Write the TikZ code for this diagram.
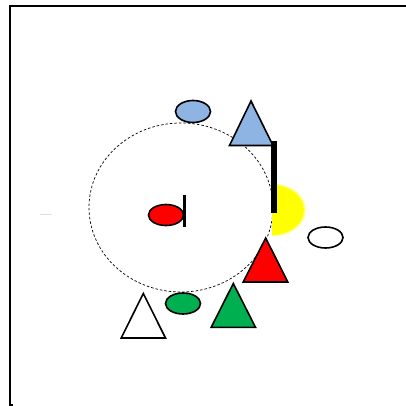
\documentclass[tikz,border=0pt]{standalone}
\definecolor{sblue}{RGB}{142,180,227}
\definecolor{sgreen}{RGB}{0,176,80}
\definecolor{sred}{RGB}{255,0,0}
\definecolor{syellow}{RGB}{255,255,0}
\tikzset{
  shp/.style={draw=black,line width=1.6pt,line join=miter},
  bar/.style={fill=black,draw=none},
  orbit/.style={draw=black,line width=0.7pt,dash pattern=on 2.5pt off 2pt}
}
\begin{document}
\begin{tikzpicture}[x=1pt,y=-1pt]
\useasboundingbox (0,0) rectangle (406,406);
% frame
\draw[line width=2pt] (12.5,404.5) -- (9.5,404.5) -- (9.5,5.8) -- (407,5.8);
% faint line
\draw[gray!25,line width=0.8pt] (40,214) -- (52,214);
% dashed orbit
\draw[orbit] (181,207.5) ellipse [x radius=92, y radius=84.5];
% yellow half blob
\fill[syellow!40] (272,183.5) arc[start angle=-90,end angle=90,x radius=34,y radius=26.5] -- cycle;
\fill[syellow] (272,185) arc[start angle=-90,end angle=90,x radius=32,y radius=25] -- cycle;
% red ellipse + bar
\path[shp,fill=sred] (166,215) ellipse [x radius=17.5, y radius=10.5];
\fill[bar] (182.5,195) rectangle (186,227);
% blue ellipse
\path[shp,fill=sblue] (193,111.5) ellipse [x radius=17.5, y radius=11];
% blue triangle
\path[shp,fill=sblue] (251,101) -- (273,145.5) -- (229.5,145.5) -- cycle;
% thick bar
\fill[bar] (270.8,141) rectangle (276.8,213);
% white ellipse
\path[shp,fill=white] (325.5,237.5) ellipse [x radius=17.5, y radius=10.5];
% red triangle
\path[shp,fill=sred] (265.7,238) -- (287.8,282) -- (243.2,282) -- cycle;
% green ellipse
\path[shp,fill=sgreen] (183,303.5) ellipse [x radius=17.5, y radius=10.5];
% green triangle
\path[shp,fill=sgreen] (233.3,283.5) -- (255.5,327.3) -- (211.2,327.3) -- cycle;
% white triangle
\path[shp,fill=white] (143.3,293.5) -- (165.5,338) -- (121.2,338) -- cycle;
\end{tikzpicture}
\end{document}
